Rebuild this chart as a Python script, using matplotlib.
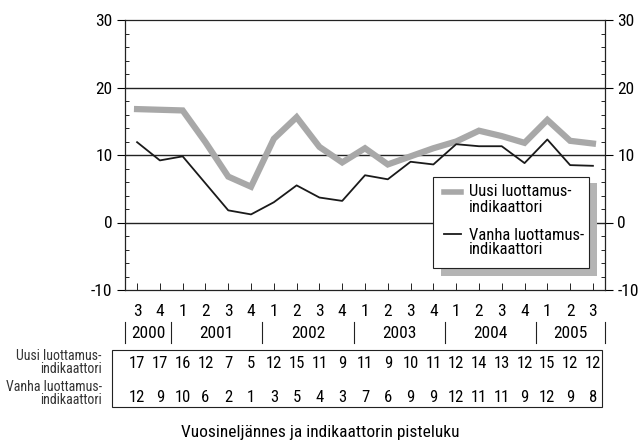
import matplotlib.pyplot as plt
from matplotlib.patches import Rectangle
from matplotlib.lines import Line2D
from matplotlib.transforms import blended_transform_factory
from matplotlib.ticker import MultipleLocator

plt.rcParams['font.family'] = ['Roboto Condensed', 'DejaVu Sans']
plt.rcParams['axes.unicode_minus'] = False

# quarters 2000Q3 .. 2005Q3
quarters = ['3', '4', '1', '2', '3', '4', '1', '2', '3', '4', '1', '2', '3', '4',
            '1', '2', '3', '4', '1', '2', '3']
years = ['2000', '2001', '2002', '2003', '2004', '2005']
year_start = [0, 2, 6, 10, 14, 18]
year_end = [1, 5, 9, 13, 17, 20]

uusi = [16.8, 16.7, 16.6, 11.9, 6.8, 5.3, 12.4, 15.6, 11.2, 8.9, 11.0, 8.6,
        9.8, 11.0, 12.0, 13.6, 12.8, 11.8, 15.2, 12.1, 11.7]
vanha = [11.9, 9.2, 9.8, 5.8, 1.8, 1.2, 3.0, 5.5, 3.7, 3.2, 7.0, 6.4,
         9.0, 8.6, 11.6, 11.3, 11.3, 8.8, 12.3, 8.5, 8.4]
uusi_pts = [17, 17, 16, 12, 7, 5, 12, 15, 11, 9, 11, 9, 10, 11, 12, 14, 13, 12, 15, 12, 12]
vanha_pts = [12, 9, 10, 6, 2, 1, 3, 5, 4, 3, 7, 6, 9, 9, 12, 11, 11, 9, 12, 9, 8]
labels = [['Uusi luottamus-', 'indikaattori'], ['Vanha luottamus-', 'indikaattori']]

W, H = 640, 442
GREY = '#a8a8a8'
INK = '#1a1a1a'

fig = plt.figure(figsize=(6.4, 4.42), dpi=100)
ax = fig.add_axes([125 / W, 1 - 290 / H, 480 / W, 270 / H])

x = list(range(len(quarters)))
ax.plot(x, uusi, color=GREY, lw=4.5, solid_joinstyle='miter', zorder=3)
ax.plot(x, vanha, color=INK, lw=1.3, zorder=4)

for g in [0, 10, 20]:
    ax.axhline(g, color='#222222', lw=1.0, zorder=2)

ax.set_xlim(-0.53, 20.53)
ax.set_ylim(-10, 30)
ax.set_yticks([-10, 0, 10, 20, 30])
ax.yaxis.set_minor_locator(MultipleLocator(2))
ax.tick_params(axis='y', which='major', direction='out', length=6, width=0.8,
               labelsize=12.5, left=True, right=True, labelleft=True, labelright=True, pad=3)
ax.tick_params(axis='y', which='minor', direction='in', length=3, width=0.6,
               left=True, right=True)
ax.set_xticks(x)
ax.tick_params(axis='x', which='major', direction='in', length=5, width=0.6,
               labelbottom=False)
for s in ax.spines.values():
    s.set_linewidth(0.9)
    s.set_color('#222222')

# legend drawn by hand: box with shadow, handle next to the first text line
def fx(px):
    return px / W

def fy(py):
    return 1 - py / H

fig.patches.append(Rectangle((fx(441), fy(276)), fx(156), 93 / H, transform=fig.transFigure,
                             facecolor='#b4b4b4', edgecolor='none', zorder=5))
fig.patches.append(Rectangle((fx(433), fy(268)), fx(156), 91 / H, transform=fig.transFigure,
                             facecolor='white', edgecolor='#222222', lw=0.8, zorder=6))
fig.lines.append(Line2D([fx(444), fx(461)], [fy(192), fy(192)], transform=fig.transFigure,
                        color=GREY, lw=4, zorder=7))
fig.lines.append(Line2D([fx(444), fx(461)], [fy(234), fy(234)], transform=fig.transFigure,
                        color=INK, lw=1.3, zorder=7))
for lab, ys in zip(labels, [(192, 207), (235, 250)]):
    for line, yl in zip(lab, ys):
        fig.text(fx(469), fy(yl), line, ha='left', va='center', fontsize=12, zorder=7)

# quarter and year labels under the axis
tr = blended_transform_factory(ax.transData, fig.transFigure)
for xi, q in zip(x, quarters):
    ax.text(xi, fy(312), q, transform=tr, ha='center', va='center',
            fontsize=12.5, clip_on=False)

seps = [-0.53] + [e + 0.5 for e in year_end[:-1]] + [20.53]
for sx in seps:
    ax.add_line(Line2D([sx, sx], [fy(322), fy(343)], transform=tr,
                       color='#222222', lw=0.8, clip_on=False))
for yr, a, b in zip(years, year_start, year_end):
    ax.text((a + b) / 2, fy(333), yr, transform=tr, ha='center', va='center',
            fontsize=12.5, clip_on=False)

# table of indicator points
fig.patches.append(Rectangle((fx(112), fy(407)), fx(602 - 112), (407 - 350) / H,
                             transform=fig.transFigure, fill=False,
                             edgecolor='#222222', lw=0.8))
for xi, u, v in zip(x, uusi_pts, vanha_pts):
    ax.text(xi, fy(364), str(u), transform=tr, ha='center', va='center',
            fontsize=12, clip_on=False)
    ax.text(xi, fy(397), str(v), transform=tr, ha='center', va='center',
            fontsize=12, clip_on=False)

for lab, ys in zip(labels, [(356, 369), (387, 400)]):
    for line, yl in zip(lab, ys):
        fig.text(fx(102), fy(yl), line, ha='right', va='center', fontsize=10,
                 color='#333333')

fig.text(fx(320), fy(433), 'Vuosineljännes ja indikaattorin pisteluku',
         ha='center', va='center', fontsize=12.5)

fig.savefig('out.png', dpi=100)
